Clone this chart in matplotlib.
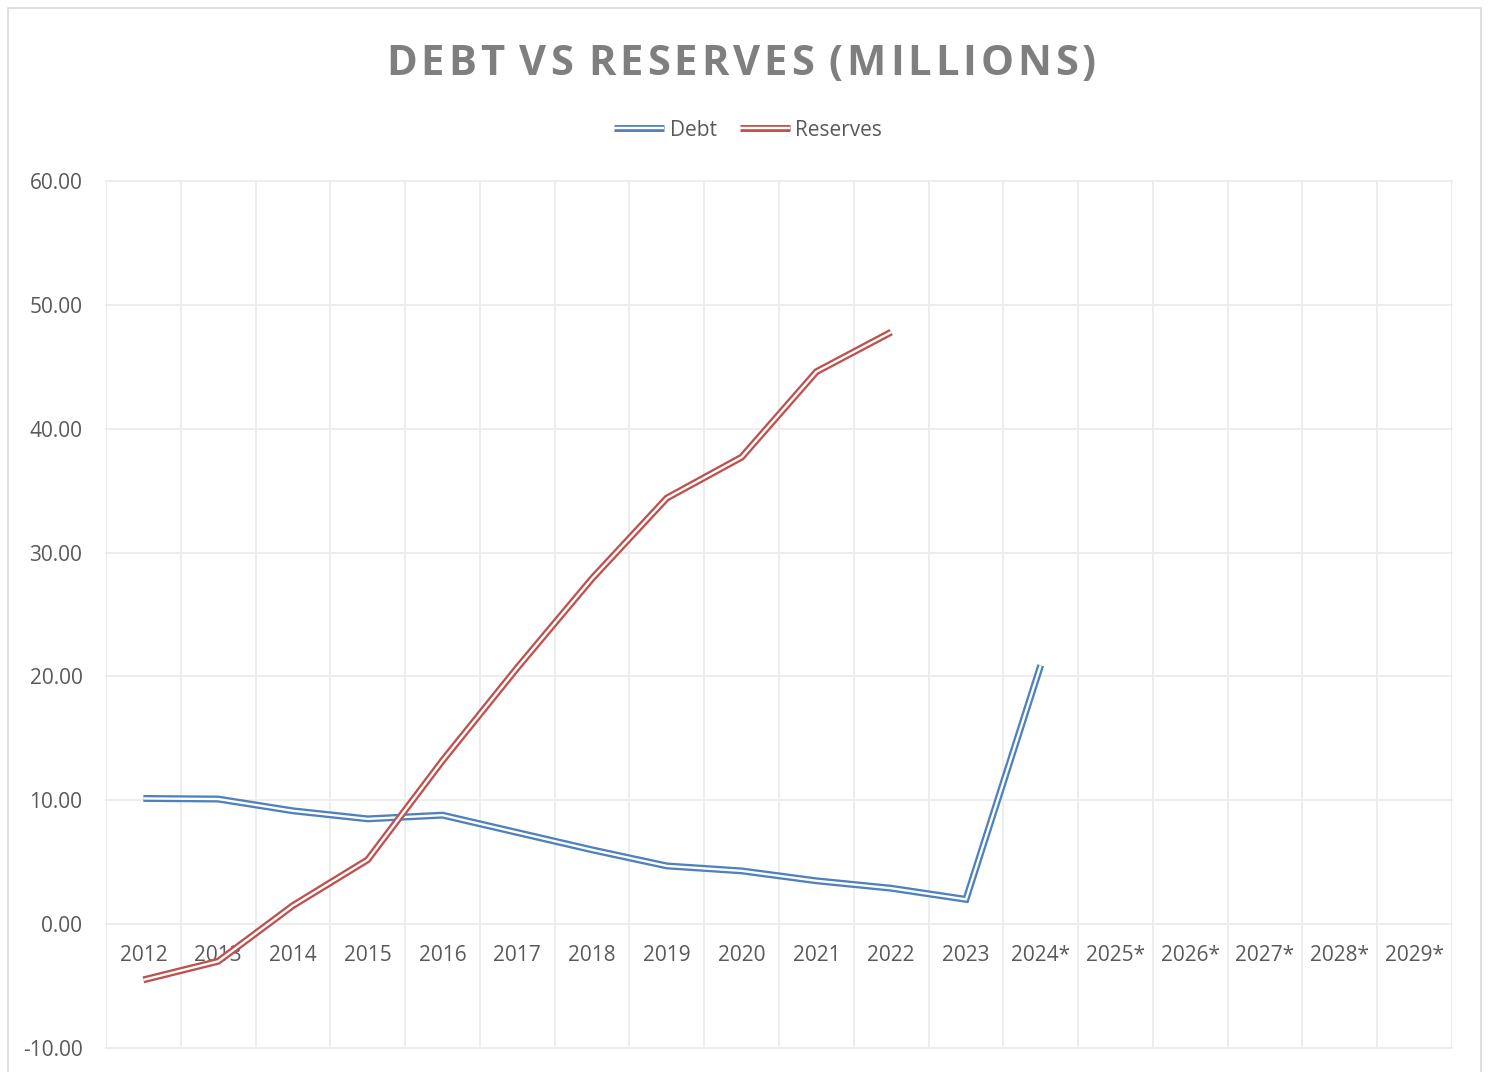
import matplotlib.pyplot as plt
from matplotlib import patheffects as pe
from matplotlib.patches import Rectangle

# Debt and cash reserves, millions; starred years are projections
years = ["2012", "2013", "2014", "2015", "2016", "2017", "2018", "2019", "2020",
         "2021", "2022", "2023", "2024*", "2025*", "2026*", "2027*", "2028*", "2029*"]
debt = [10.15, 10.1, 9.15, 8.5, 8.8, 7.4, 6.0, 4.7, 4.3, 3.5, 2.9, 2.0, 20.9]
reserves = [-4.5, -3.0, 1.5, 5.2, 13.2, 20.7, 27.9, 34.4, 37.7, 44.6, 47.8]
y_ticks = [-10, 0, 10, 20, 30, 40, 50, 60]

BLUE = "#4F81BD"
RED = "#C0504D"
GRID = "#EDEDED"
TEXT = "#595959"
FONT = "Open Sans"

plt.rcParams["font.family"] = [FONT, "DejaVu Sans"]

fig = plt.figure(figsize=(14.89, 10.72), dpi=100)
ax = fig.add_axes([106 / 1489, 1 - 1048 / 1072, (1452 - 106) / 1489, (1048 - 181) / 1072])

# outer chart border
fig.patches.append(Rectangle((8 / 1489, -0.01), (1481 - 8) / 1489, 1 - 8 / 1072 + 0.01,
                             transform=fig.transFigure, fill=False,
                             edgecolor="#D9D9D9", linewidth=1.2))


def double_line(x, y, color, label):
    # thick coloured stroke with a white core -> "double" compound line
    ax.plot(x, y, color="white", linewidth=1.7, label=label,
            solid_capstyle="butt", solid_joinstyle="miter",
            path_effects=[pe.Stroke(linewidth=5.0, foreground=color), pe.Normal()],
            zorder=3)


double_line(range(len(debt)), debt, BLUE, "Debt")
double_line(range(len(reserves)), reserves, RED, "Reserves")

ax.set_xlim(-0.5, len(years) - 0.5)
ax.set_ylim(-10, 60)
ax.set_yticks(y_ticks)
ax.set_yticklabels([f"{v:.2f}" for v in y_ticks])
ax.set_xticks(range(len(years)))
ax.set_xticklabels(years)
ax.set_xticks([i - 0.5 for i in range(len(years) + 1)], minor=True)

for s in ax.spines.values():
    s.set_visible(False)
ax.spines["bottom"].set_position(("data", 0))

ax.grid(True, axis="y", which="major", color=GRID, linewidth=1.4)
ax.grid(True, axis="x", which="minor", color=GRID, linewidth=1.4)
ax.grid(False, axis="x", which="major")
for gl in ax.get_ygridlines() + ax.xaxis.get_minorticklines():
    gl.set_clip_on(False)
ax.set_axisbelow(True)

ax.tick_params(axis="both", which="both", length=0, labelsize=15, labelcolor=TEXT)
ax.tick_params(axis="y", pad=17)
ax.tick_params(axis="x", pad=15)

leg = fig.legend(loc="center", bbox_to_anchor=(748 / 1489, 1 - 130 / 1072), ncol=2,
                 frameon=False, fontsize=15, handlelength=2.4, handletextpad=0.25,
                 columnspacing=1.1)
for t in leg.get_texts():
    t.set_color(TEXT)

# title with wide letter spacing, drawn one glyph at a time
title = "DEBT VS RESERVES (MILLIONS)"
title_size = 30
title_left, title_right = 386, 1096
renderer = fig.canvas.get_renderer()
widths = []
for ch in title:
    if ch == " ":
        widths.append(7.0)
        continue
    t = fig.text(0, 0, ch, fontsize=title_size, fontweight="bold")
    widths.append(t.get_window_extent(renderer).width)
    t.remove()
gap = (title_right - title_left - sum(widths)) / (len(title) - 1)
x = title_left
for ch, w in zip(title, widths):
    if ch != " ":
        fig.text(x / 1489, 1 - 75 / 1072, ch, fontsize=title_size, fontweight="bold",
                 color="#7F7F7F", ha="left", va="baseline")
    x += w + gap

fig.savefig("out.png", dpi=100, facecolor="white")
